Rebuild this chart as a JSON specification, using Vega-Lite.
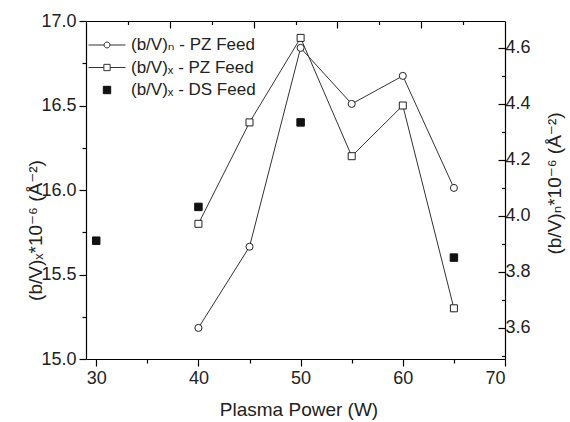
{
  "$schema": "https://vega.github.io/schema/vega-lite/v6.json",
  "width": 419,
  "height": 338,
  "autosize": "none",
  "padding": {"left": 86, "top": 21, "right": 65, "bottom": 63},
  "background": "white",
  "config": {
    "view": {"stroke": null},
    "font": "Liberation Sans, DejaVu Sans",
    "axis": {
      "domainColor": "#000", "tickColor": "#000", "labelColor": "#222", "titleColor": "#222",
      "labelFont": "Liberation Sans, DejaVu Sans", "titleFont": "Liberation Sans, DejaVu Sans",
      "labelFontSize": 18, "titleFontSize": 18, "titleFontWeight": "normal",
      "grid": false, "domainWidth": 1.2, "tickWidth": 1.2
    },
    "legend": {
      "orient": "none", "legendX": 2, "legendY": 15, "title": null, "padding": 0,
      "symbolSize": 1369, "clipHeight": 18, "rowPadding": 4.5, "labelOffset": 5,
      "labelFontSize": 17, "labelColor": "#222", "labelFont": "Liberation Sans, DejaVu Sans",
      "symbolStrokeWidth": 1
    }
  },
  "data": {"values": [
    {"power": 40, "value": 15.8, "series": "x_pz"},
    {"power": 45, "value": 16.4, "series": "x_pz"},
    {"power": 50, "value": 16.9, "series": "x_pz"},
    {"power": 55, "value": 16.2, "series": "x_pz"},
    {"power": 60, "value": 16.5, "series": "x_pz"},
    {"power": 65, "value": 15.3, "series": "x_pz"},
    {"power": 30, "value": 15.7, "series": "x_ds"},
    {"power": 40, "value": 15.9, "series": "x_ds"},
    {"power": 50, "value": 16.4, "series": "x_ds"},
    {"power": 65, "value": 15.6, "series": "x_ds"},
    {"power": 40, "value": 3.6, "series": "n_pz"},
    {"power": 45, "value": 3.89, "series": "n_pz"},
    {"power": 50, "value": 4.6, "series": "n_pz"},
    {"power": 55, "value": 4.4, "series": "n_pz"},
    {"power": 60, "value": 4.5, "series": "n_pz"},
    {"power": 65, "value": 4.1, "series": "n_pz"}
  ]},
  "layer": [
    {
      "transform": [{"filter": "datum.series === 'x_pz'"}],
      "mark": {"type": "line", "color": "#333", "strokeWidth": 1},
      "encoding": {
        "x": {"field": "power", "type": "quantitative",
          "scale": {"domain": [29, 70], "nice": false, "zero": false},
          "axis": {"orient": "bottom", "values": [30, 40, 50, 60, 70], "tickSize": 7, "labelPadding": 3,
            "title": "Plasma Power (W)", "titleFontSize": 19, "titleX": 212.5, "titleY": 56, "titleAlign": "center", "titleBaseline": "alphabetic"}},
        "y": {"field": "value", "type": "quantitative",
          "scale": {"domain": [15, 17], "nice": false, "zero": false},
          "axis": {"orient": "left", "values": [15, 15.5, 16, 16.5, 17], "format": ".1f", "tickSize": 7, "labelPadding": 3,
            "title": "(b/V)ₓ*10⁻⁶ (Å⁻²)", "titleFontSize": 19, "titleX": -45, "titleY": 209, "titleAngle": -90, "titleAlign": "center", "titleBaseline": "alphabetic"}}
      }
    },
    {
      "transform": [{"filter": "datum.series === 'x_pz'"}],
      "mark": {"type": "point", "shape": "square", "filled": true, "fill": "white", "stroke": "#222", "strokeWidth": 1, "size": 49, "opacity": 1},
      "encoding": {
        "x": {"field": "power", "type": "quantitative",
          "scale": {"domain": [29, 70], "nice": false, "zero": false},
          "axis": {"orient": "bottom", "values": [35, 45, 55, 65], "tickSize": 4, "labels": false, "domain": false, "title": null}},
        "y": {"field": "value", "type": "quantitative",
          "scale": {"domain": [15, 17], "nice": false, "zero": false},
          "axis": {"orient": "left", "values": [15.25, 15.75, 16.25, 16.75], "tickSize": 4, "labels": false, "domain": false, "title": null}}
      }
    },
    {
      "transform": [{"filter": "datum.series === 'x_ds'"}],
      "mark": {"type": "point", "shape": "square", "filled": true, "fill": "#111", "stroke": "#111", "strokeWidth": 1, "size": 56, "opacity": 1},
      "encoding": {
        "x": {"field": "power", "type": "quantitative",
          "scale": {"domain": [29, 70], "nice": false, "zero": false},
          "axis": {"orient": "top", "values": [37.2, 45.4, 53.6, 61.8], "tickSize": -7, "labels": false, "domain": true, "title": null}},
        "y": {"field": "value", "type": "quantitative",
          "scale": {"domain": [15, 17], "nice": false, "zero": false}, "axis": null}
      }
    },
    {
      "transform": [{"filter": "datum.series === 'n_pz'"}],
      "mark": {"type": "line", "color": "#333", "strokeWidth": 1},
      "encoding": {
        "x": {"field": "power", "type": "quantitative",
          "scale": {"domain": [29, 70], "nice": false, "zero": false},
          "axis": {"orient": "top", "values": [33.1, 41.3, 49.5, 57.7, 65.9], "tickSize": -3.5, "labels": false, "domain": false, "title": null}},
        "y": {"field": "value", "type": "quantitative",
          "scale": {"domain": [3.489, 4.696], "nice": false, "zero": false},
          "axis": {"orient": "right", "values": [3.6, 3.8, 4.0, 4.2, 4.4, 4.6], "format": ".1f", "tickSize": -7, "labelPadding": 7,
            "title": "(b/V)ₙ*10⁻⁶ (Å⁻²)", "titleFontSize": 19, "titleX": 55, "titleY": 162, "titleAngle": -90, "titleAlign": "center", "titleBaseline": "alphabetic"}}
      }
    },
    {
      "transform": [{"filter": "datum.series === 'n_pz'"}],
      "mark": {"type": "point", "shape": "circle", "filled": true, "fill": "white", "stroke": "#222", "strokeWidth": 1, "size": 50, "opacity": 1},
      "encoding": {
        "x": {"field": "power", "type": "quantitative",
          "scale": {"domain": [29, 70], "nice": false, "zero": false}, "axis": null},
        "y": {"field": "value", "type": "quantitative",
          "scale": {"domain": [3.489, 4.696], "nice": false, "zero": false},
          "axis": {"orient": "right", "values": [3.5, 3.7, 3.9, 4.1, 4.3, 4.5], "tickSize": -3.5, "labels": false, "domain": false, "title": null}}
      }
    },
    {
      "transform": [{"filter": "false"}],
      "mark": {"type": "point", "filled": true, "strokeWidth": 1, "opacity": 1},
      "encoding": {
        "shape": {"field": "series", "type": "nominal",
          "scale": {"domain": ["n_pz", "x_pz", "x_ds"],
            "range": [
              "M-1,0H-0.16M0.16,0H1M-0.16,0A0.16,0.16,0,1,0,0.16,0A0.16,0.16,0,1,0,-0.16,0Z",
              "M-1,0H-0.17M0.17,0H1M-0.17,-0.17H0.17V0.17H-0.17Z",
              "M-0.2,-0.2H0.2V0.2H-0.2Z"
            ]},
          "legend": {"labelExpr": "datum.value === 'n_pz' ? '(b/V)ₙ - PZ Feed' : datum.value === 'x_pz' ? '(b/V)ₓ - PZ Feed' : '(b/V)ₓ - DS Feed'"}},
        "fill": {"field": "series", "type": "nominal",
          "scale": {"domain": ["n_pz", "x_pz", "x_ds"], "range": ["white", "white", "#111"]},
          "legend": {"labelExpr": "datum.value === 'n_pz' ? '(b/V)ₙ - PZ Feed' : datum.value === 'x_pz' ? '(b/V)ₓ - PZ Feed' : '(b/V)ₓ - DS Feed'"}},
        "stroke": {"field": "series", "type": "nominal",
          "scale": {"domain": ["n_pz", "x_pz", "x_ds"], "range": ["#333", "#333", "#111"]},
          "legend": {"labelExpr": "datum.value === 'n_pz' ? '(b/V)ₙ - PZ Feed' : datum.value === 'x_pz' ? '(b/V)ₓ - PZ Feed' : '(b/V)ₓ - DS Feed'"}}
      }
    }
  ],
  "resolve": {"scale": {"x": "independent", "y": "independent"}}
}
